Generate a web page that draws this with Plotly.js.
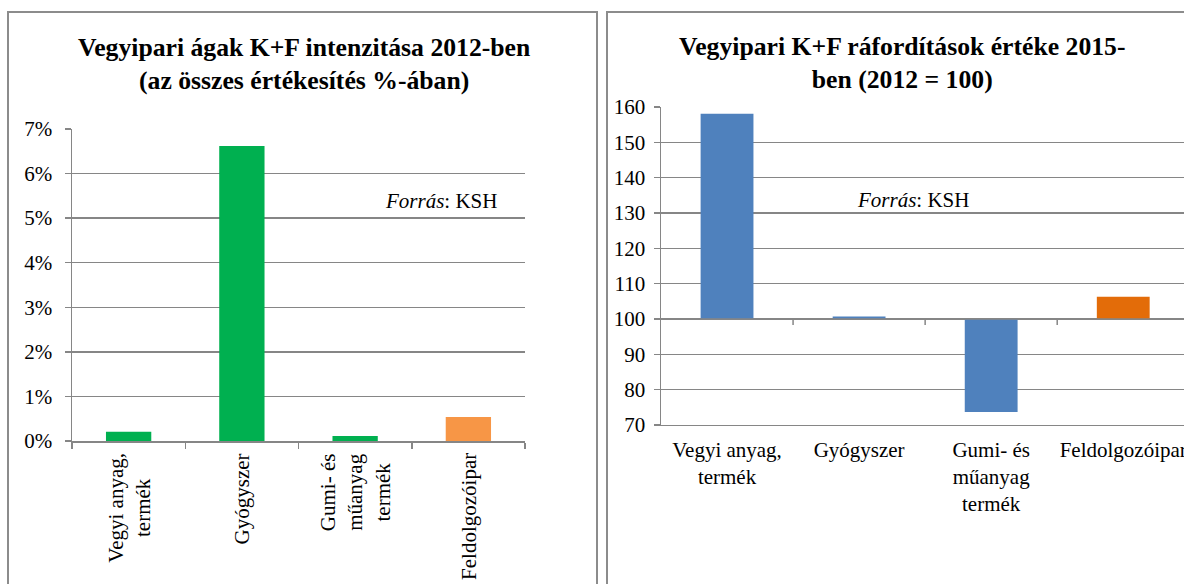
<!DOCTYPE html>
<html>
<head>
<meta charset="utf-8">
<script src="https://cdn.plot.ly/plotly-3.0.1.min.js"></script>
<style>
  html, body { margin: 0; padding: 0; background: #ffffff; }
  #chart { width: 1184px; height: 584px; }
</style>
</head>
<body>
<div id="chart"></div>
<script>
// ---- Data ----
var categories = ["Vegyi anyag,<br>termék", "Gyógyszer", "Gumi- és<br>műanyag<br>termék", "Feldolgozóipar"];
var intensity2012 = [0.21, 6.62, 0.11, 0.54];           // % of total sales
var index2015 = [158.1, 100.7, 73.7, 106.3];             // 2012 = 100
var baseIndex = 100;
var leftColors = ["#00B050", "#00B050", "#00B050", "#F79646"];
var rightColors = ["#4F81BD", "#4F81BD", "#4F81BD", "#E36C09"];
var leftTitle = "Vegyipari ágak K+F intenzitása 2012-ben<br>(az összes értékesítés %-ában)";
var rightTitle = "Vegyipari K+F ráfordítások értéke 2015-<br>ben (2012 = 100)";
var sourceText = "<i>Forrás</i>: KSH";

// ---- Styling helpers ----
var W = 1184, H = 584;
var FONT = "Liberation Serif";
var GRID = "#868686";
function px(x) { return x / W; }
function py(y) { return 1 - y / H; }

var traces = [
  {
    type: "bar", x: categories, y: intensity2012,
    xaxis: "x", yaxis: "y",
    marker: { color: leftColors, line: { width: 0 } },
    hoverinfo: "x+y"
  },
  {
    type: "bar", x: categories,
    y: index2015.map(function (v) { return v - baseIndex; }),
    base: baseIndex,
    xaxis: "x2", yaxis: "y2",
    marker: { color: rightColors, line: { width: 0 } },
    hoverinfo: "x"
  }
];

var tickFont = { family: FONT, size: 21, color: "#000000" };

var layout = {
  width: W, height: H,
  margin: { l: 0, r: 0, t: 0, b: 0 },
  paper_bgcolor: "#ffffff", plot_bgcolor: "#ffffff",
  showlegend: false,
  bargap: 0.6,
  font: { family: FONT, color: "#000000" },
  xaxis: {
    domain: [px(72), px(525)], anchor: "y", type: "category",
    range: [-0.5, 3.5],
    showline: true, linecolor: GRID, linewidth: 1.5,
    ticks: "outside", tickson: "boundaries", ticklen: 6, tickcolor: GRID, tickwidth: 1.5,
    showticklabels: false, showgrid: false, zeroline: false, fixedrange: true
  },
  yaxis: {
    domain: [py(441), py(129)], anchor: "x",
    range: [0, 7], dtick: 1, ticksuffix: "%",
    showline: true, linecolor: GRID, linewidth: 1.5,
    ticks: "outside", ticklen: 6, tickcolor: GRID, tickwidth: 1.5,
    showgrid: true, gridcolor: GRID, gridwidth: 1.3, zeroline: false,
    tickfont: tickFont, ticklabelstandoff: 8, fixedrange: true
  },
  xaxis2: {
    domain: [px(661), 1], anchor: "y2", type: "category",
    range: [-0.5, 3.46],
    showline: true, linecolor: GRID, linewidth: 1.3,
    ticks: "", tickfont: tickFont, showgrid: false, zeroline: false,
    ticklabelstandoff: 5, fixedrange: true
  },
  yaxis2: {
    domain: [py(425), py(107)], anchor: "x2",
    range: [70, 160], dtick: 10,
    showline: true, linecolor: GRID, linewidth: 1.5,
    ticks: "outside", ticklen: 6, tickcolor: GRID, tickwidth: 1.5,
    showgrid: true, gridcolor: GRID, gridwidth: 1.3, zeroline: false,
    tickfont: tickFont, ticklabelstandoff: 4, fixedrange: true
  },
  shapes: [
    // panel borders
    { type: "rect", xref: "paper", yref: "paper", x0: px(8), x1: px(597), y0: -0.1, y1: py(12),
      line: { color: "#8c8c8c", width: 2 }, fillcolor: "rgba(0,0,0,0)", layer: "below" },
    { type: "rect", xref: "paper", yref: "paper", x0: px(607), x1: 1.05, y0: -0.1, y1: py(12),
      line: { color: "#8c8c8c", width: 2 }, fillcolor: "rgba(0,0,0,0)", layer: "below" },
    // right chart: horizontal category axis crossing at 100
    { type: "line", xref: "x2 domain", yref: "y2", x0: 0, x1: 1, y0: baseIndex, y1: baseIndex,
      line: { color: GRID, width: 1.5 }, layer: "above" }
  ],
  annotations: [
    { xref: "paper", yref: "paper", x: px(304), y: py(64), xanchor: "center", yanchor: "middle",
      text: "<b>" + leftTitle + "</b>", showarrow: false, align: "center",
      font: { family: FONT, size: 25.7, color: "#000000" } },
    { xref: "paper", yref: "paper", x: px(902), y: py(63), xanchor: "center", yanchor: "middle",
      text: "<b>" + rightTitle + "</b>", showarrow: false, align: "center",
      font: { family: FONT, size: 25.7, color: "#000000" } },
    { xref: "paper", yref: "paper", x: px(441), y: py(201), xanchor: "center", yanchor: "middle",
      text: sourceText, showarrow: false, font: { family: FONT, size: 21, color: "#000000" } },
    { xref: "paper", yref: "paper", x: px(913), y: py(200), xanchor: "center", yanchor: "middle",
      text: sourceText, showarrow: false, font: { family: FONT, size: 21, color: "#000000" } }
  ]
};

// left chart: rotated category labels, lines centred (as in the original)
categories.forEach(function (c, i) {
  layout.annotations.push({
    xref: "x", yref: "paper", x: i, y: py(452),
    xanchor: "center", yanchor: "top", textangle: -90, align: "center",
    text: c, showarrow: false, borderpad: 0,
    font: { family: FONT, size: 21, color: "#000000" }
  });
});

// tick marks on the 100 crossing line (at category boundaries)
for (var i = 0; i < categories.length - 1; i++) {
  layout.shapes.push({
    type: "line", xref: "x2", yref: "y2",
    x0: i + 0.5, x1: i + 0.5, y0: baseIndex, y1: baseIndex - 1.7,
    line: { color: GRID, width: 1.5 }
  });
}

Plotly.newPlot("chart", traces, layout, { displayModeBar: false, staticPlot: true });
</script>
</body>
</html>
